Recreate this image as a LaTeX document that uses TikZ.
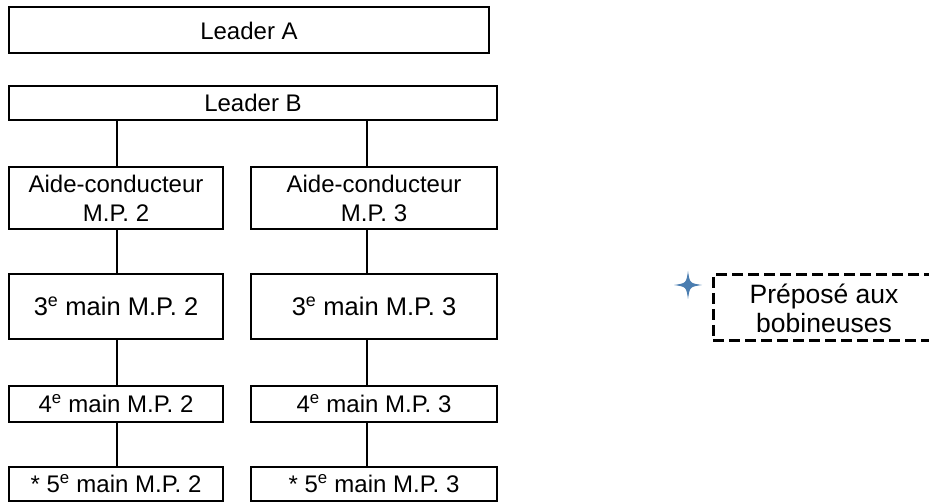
\documentclass[tikz,border=0pt]{standalone}
\usepackage{fontspec}
\setmainfont{Liberation Sans}
\definecolor{starblue}{HTML}{4A7DB0}
\tikzset{
  box/.style={draw=black, line width=2pt, inner sep=0pt, align=center,
    font=\fontsize{24}{29}\selectfont},
  bigbox/.style={box, font=\fontsize{25.5}{29}\selectfont},
  dbox/.style={box, line width=3pt, dash pattern=on 11pt off 5pt,
    font=\fontsize{26.5}{29}\selectfont},
  link/.style={draw=black, line width=2pt}
}
\begin{document}
\begin{tikzpicture}[x=1pt,y=-1pt]
\useasboundingbox (0,0) rectangle (929,502);
\node[box, minimum width=480pt, minimum height=46pt] (LA) at (249,30.5) {Leader A};
\node[box, minimum width=488pt, minimum height=34pt] (LB) at (253,103) {Leader B};
\node[box, minimum width=214pt, minimum height=62pt] (A2) at (116,198) {Aide-conducteur\\M.P. 2};
\node[box, minimum width=246pt, minimum height=62pt] (A3) at (374,198) {Aide-conducteur\\M.P. 3};
\node[bigbox, minimum width=214pt, minimum height=65pt] (T2) at (116,306.5) {3\textsuperscript{e} main M.P. 2};
\node[bigbox, minimum width=246pt, minimum height=65pt] (T3) at (374,306.5) {3\textsuperscript{e} main M.P. 3};
\node[box, minimum width=214pt, minimum height=36pt] (F2) at (116,404) {4\textsuperscript{e} main M.P. 2};
\node[box, minimum width=246pt, minimum height=36pt] (F3) at (374,404) {4\textsuperscript{e} main M.P. 3};
\node[box, minimum width=214pt, minimum height=34pt] (V2) at (116,484) {* 5\textsuperscript{e} main M.P. 2};
\node[box, minimum width=246pt, minimum height=34pt] (V3) at (374,484) {* 5\textsuperscript{e} main M.P. 3};
\node[dbox, minimum width=222pt, minimum height=66pt] (PB) at (824,308) {Préposé aux\\bobineuses};
\coordinate (c2) at (117,0);
\coordinate (c3) at (367,0);
\draw[link] (LB.south -| c2) -- (A2.north -| c2);
\draw[link] (LB.south -| c3) -- (A3.north -| c3);
\draw[link] (A2.south -| c2) -- (T2.north -| c2);
\draw[link] (A3.south -| c3) -- (T3.north -| c3);
\draw[link] (T2.south -| c2) -- (F2.north -| c2);
\draw[link] (T3.south -| c3) -- (F3.north -| c3);
\draw[link] (F2.south -| c2) -- (V2.north -| c2);
\draw[link] (F3.south -| c3) -- (V3.north -| c3);
\fill[starblue] (688,271) .. controls (689.8,283.2) .. (702,285)
  .. controls (689.8,286.8) .. (688,299)
  .. controls (686.2,286.8) .. (674,285)
  .. controls (686.2,283.2) .. (688,271) -- cycle;
\end{tikzpicture}
\end{document}
